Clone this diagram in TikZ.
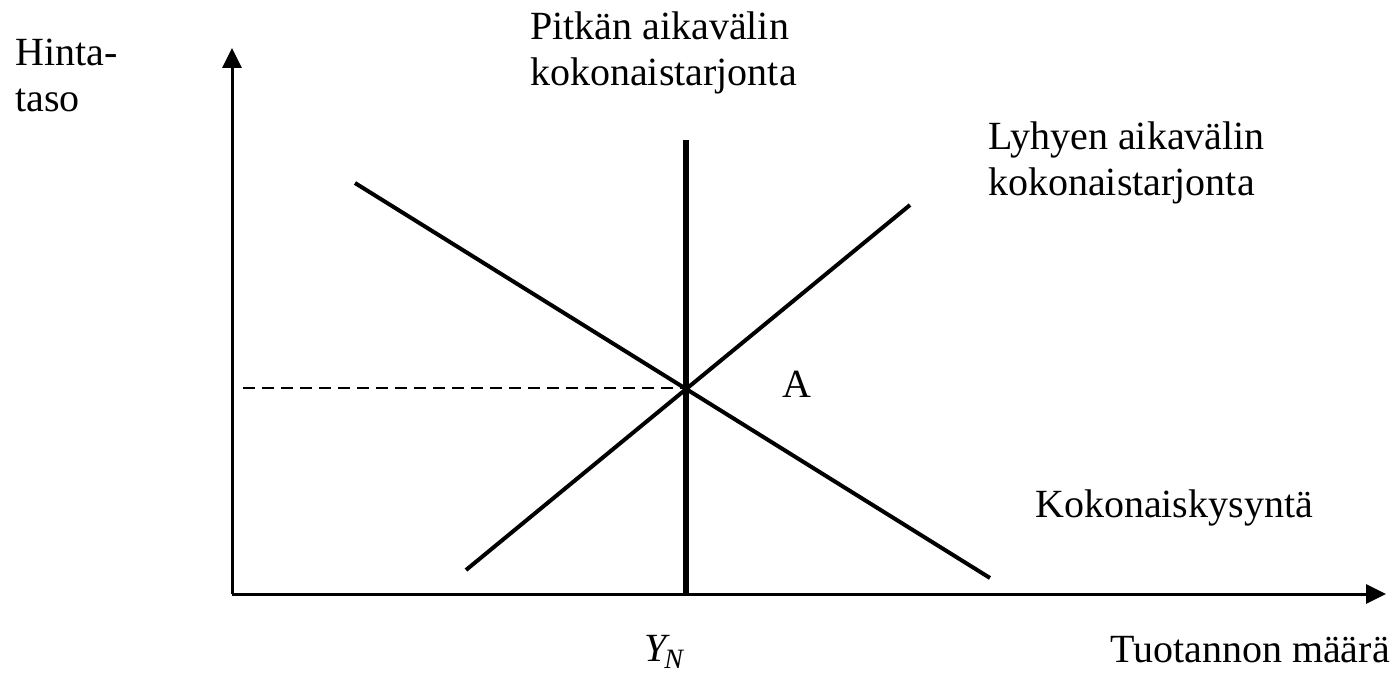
\documentclass[tikz,border=0pt]{standalone}
\usepackage{fontspec}
\setmainfont{Liberation Serif}
\usetikzlibrary{arrows.meta}
\begin{document}
\begin{tikzpicture}[x=1pt,y=-1pt,
  lbl/.style={inner sep=0pt,font=\fontsize{40}{46}\selectfont,align=left,anchor=base west},
  axis/.style={line width=3pt,-{Triangle[length=20pt,width=19pt]}},
  curve/.style={line width=4pt},
  lras/.style={line width=6.5pt},
  guide/.style={line width=2pt,dash pattern=on 12pt off 7pt}]
\useasboundingbox (0,0) rectangle (1394,674);
\coordinate (O) at (232,594);
\coordinate (ytip) at (232,48);
\coordinate (xtip) at (1386,594);
\coordinate (lrtop) at (686,140);
\coordinate (lrbot) at (686,594);
\coordinate (d1) at (355,183);
\coordinate (d2) at (990,578);
\coordinate (s1) at (466,570);
\coordinate (s2) at (910,205);
\coordinate (E) at (686,388);
\coordinate (g) at (243,388);
\draw[axis] (O) -- (ytip);
\draw[axis] (O) -- (xtip);
\draw[guide] (g) -- (E);
\draw[curve] (d1) -- (d2);
\draw[curve] (s1) -- (s2);
\draw[lras] (lrtop) -- (lrbot);
\node[lbl] (ht) at (15,112) {Hinta-\\taso};
\node[lbl] (plr) at (530,86) {Pitkän aikavälin\\kokonaistarjonta};
\node[lbl] (slr) at (988,195) {Lyhyen aikavälin\\kokonaistarjonta};
\node[lbl] (ad) at (1035,517) {Kokonaiskysyntä};
\node[lbl] (A) at (782,397) {A};
\node[lbl] (tm) at (1110,662) {Tuotannon määrä};
\node[lbl] (yn) at (644,661) {\itshape Y\kern-2pt\raisebox{-7pt}{\fontsize{28}{28}\selectfont N}};
\end{tikzpicture}
\end{document}
